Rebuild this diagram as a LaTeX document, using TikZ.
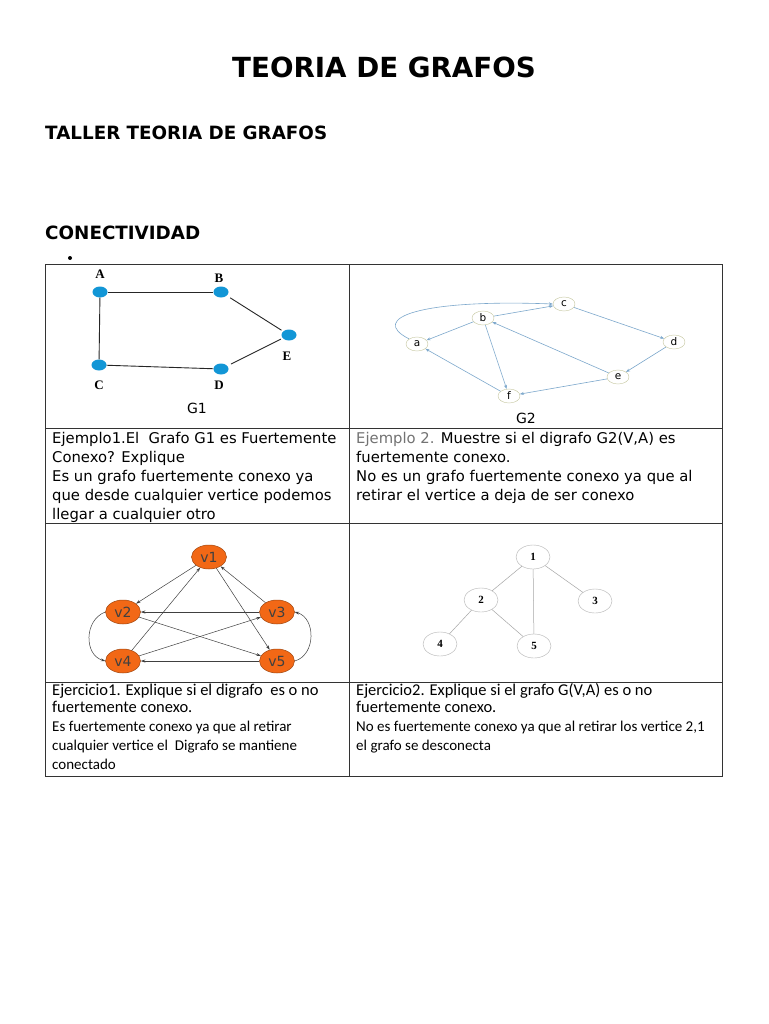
\documentclass[tikz,border=0pt]{standalone}
\usepackage{fontspec}
\setmainfont{DejaVu Sans}
\newfontfamily\calfont{Carlito}
\newfontfamily\numfont{Liberation Serif}
\usetikzlibrary{arrows.meta,positioning,calc,shapes.geometric}

\definecolor{dotblue}{RGB}{18,150,214}
\definecolor{edgeblue}{RGB}{125,168,204}
\definecolor{ovline}{RGB}{196,198,158}
\definecolor{vorange}{RGB}{242,104,22}
\definecolor{vline}{RGB}{160,70,15}

\tikzset{
  head/.style={anchor=west, inner sep=0pt, font=\bfseries\fontsize{18.3}{18.3}\selectfont},
  gdot/.style={ellipse, fill=dotblue, minimum width=15pt, minimum height=11pt, inner sep=0pt},
  glab/.style={font=\numfont\bfseries\fontsize{13}{13}\selectfont},
  dnode/.style={ellipse, draw=ovline, fill=white, minimum width=22pt, minimum height=14pt, inner sep=0pt, font=\fontsize{10.5}{10.5}\selectfont},
  darc/.style={edgeblue, line width=0.6pt, -{Stealth[length=4pt,width=3pt]}},
  vnode/.style={ellipse, fill=vorange, draw=vline, line width=0.5pt, minimum width=35pt, minimum height=24pt, inner sep=0pt, text=black!75, font=\fontsize{14}{14}\selectfont},
  varc/.style={black!75, line width=0.5pt, -{Stealth[length=4.5pt,width=3pt]}},
  tnode/.style={ellipse, draw=black!30, minimum width=34pt, minimum height=24pt, inner sep=0pt, font=\numfont\bfseries\fontsize{11}{11}\selectfont},
  tline/.style={black!35, line width=0.5pt},
  txt/.style={anchor=base west, inner sep=0pt, font=\fontsize{14.8}{14.8}\selectfont},
  ctxt/.style={anchor=base west, inner sep=0pt, font=\calfont\fontsize{16.5}{16.5}\selectfont},
  stxt/.style={anchor=base west, inner sep=0pt, font=\calfont\fontsize{15}{15}\selectfont},
}

\begin{document}
\begin{tikzpicture}[x=1pt, y=-1pt]
    \useasboundingbox[fill=white] (0,0) rectangle (768,1024);

    % Headings
    \node[font=\bfseries\fontsize{27.7}{27.7}\selectfont] (title) at (384,67) {TEORIA DE GRAFOS};
    \node[head] (taller) at (45,133) {TALLER TEORIA DE GRAFOS};
    \node[head] (conec) at (45,233) {CONECTIVIDAD};
    \node[circle, fill=black, inner sep=0pt, minimum size=4pt] (bul) at (70,258) {};

    % Table
    \draw[black!80, line width=1pt] (45,264) rectangle (722,776);
    \draw[black!80, line width=1pt] (45,428) -- (722,428);
    \draw[black!80, line width=1pt] (45,523) -- (722,523);
    \draw[black!80, line width=1pt] (45,682) -- (722,682);
    \draw[black!80, line width=1pt] (349,264) -- (349,776);

    % G1
    \node[gdot] (A) at (100,292) {};
    \node[gdot] (B) at (221,292) {};
    \node[gdot] (E) at (289,335) {};
    \node[gdot] (C) at (99,365) {};
    \node[gdot] (D) at (221,369) {};
    \node[glab] (lA) at (100,274) {A};
    \node[glab] (lB) at (219,278) {B};
    \node[glab] (lE) at (287,356) {E};
    \node[glab] (lC) at (99,385) {C};
    \node[glab] (lD) at (219,385) {D};
    \node[font=\fontsize{14}{14}\selectfont] (g1) at (197,408) {G1};
    \draw[black!85, line width=0.9pt] (A) -- (B);
    \draw[black!85, line width=0.9pt] (A) -- (C);
    \draw[black!85, line width=0.9pt] (C) -- (D);
    \draw[black!85, line width=0.9pt, shorten <=4pt, shorten >=2pt] (B) -- (E);
    \draw[black!85, line width=0.9pt, shorten <=4pt, shorten >=2pt] (D) -- (E);

    % G2
    \node[dnode] (a) at (417,344) {a};
    \node[dnode] (b) at (483,318) {b};
    \node[dnode] (c) at (564,304) {c};
    \node[dnode] (d) at (674,342) {d};
    \node[dnode] (e) at (618,377) {e};
    \node[dnode] (f) at (509,396) {f};
    \node[font=\fontsize{14}{14}\selectfont] (g2) at (526,418) {G2};
    \draw[darc] (a.north west) .. controls (368,318) and (420,299) .. (c.west);
    \draw[darc] (b) -- (c);
    \draw[darc] (b) -- (a);
    \draw[darc] (b) -- (f);
    \draw[darc] (f) -- (a);
    \draw[darc] (e) -- (b);
    \draw[darc] (e) -- (f);
    \draw[darc] (c) -- (d);
    \draw[darc] (d) -- (e);

    % Row 2 texts
    \node[txt] (ej1a) at (52,443) {Ejemplo1.El\ \ Grafo G1 es Fuertemente};
    \node[txt] (ej1b) at (52,462) {Conexo? Explique};
    \node[txt] (ej1c) at (52,481) {Es un grafo fuertemente conexo ya};
    \node[txt] (ej1d) at (52,500) {que desde cualquier vertice podemos};
    \node[txt] (ej1e) at (52,519) {llegar a cualquier otro};
    \node[txt] (ej2a) at (356,443) {{\color{black!55}Ejemplo 2.} Muestre si el digrafo G2(V,A) es};
    \node[txt] (ej2b) at (356,462) {fuertemente conexo.};
    \node[txt] (ej2c) at (356,481) {No es un grafo fuertemente conexo ya que al};
    \node[txt] (ej2d) at (356,500) {retirar el vertice a deja de ser conexo};

    % Digrafo v1..v5
    \node[vnode] (v1) at (209,557) {v1};
    \node[vnode] (v2) at (123,612) {v2};
    \node[vnode] (v3) at (277,612) {v3};
    \node[vnode] (v4) at (123,661) {v4};
    \node[vnode] (v5) at (277,661) {v5};
    \draw[varc] (v1) -- (v2);
    \draw[varc] (v4) -- (v1);
    \draw[varc] (v1) -- (v5);
    \draw[varc] (v3) -- (v1);
    \draw[varc] (v3) -- (v2);
    \draw[varc] (v2) -- (v5);
    \draw[varc] (v4) -- (v3);
    \draw[varc] (v5) -- (v4);
    \draw[varc] (v2.west) .. controls (84,620) and (84,655) .. (v4.west);
    \draw[varc] (v5.east) .. controls (316,655) and (316,618) .. (v3.east);

    % Grafo 1..5
    \node[tnode] (n1) at (533,557) {1};
    \node[tnode] (n2) at (481,600) {2};
    \node[tnode] (n3) at (595,601) {3};
    \node[tnode] (n4) at (440,644) {4};
    \node[tnode] (n5) at (534,646) {5};
    \draw[tline] (n1) -- (n2);
    \draw[tline] (n1) -- (n3);
    \draw[tline] (n1) -- (n5);
    \draw[tline] (n2) -- (n4);
    \draw[tline] (n2) -- (n5);

    % Row 4 texts
    \node[ctxt] (ex1a) at (52,695) {Ejercicio1. Explique si el digrafo\ \ es o no};
    \node[ctxt] (ex1b) at (52,712) {fuertemente conexo.};
    \node[stxt] (ex1c) at (52,731) {Es fuertemente conexo ya que al retirar};
    \node[stxt] (ex1d) at (52,750) {cualquier vertice el\ \ Digrafo se mantiene};
    \node[stxt] (ex1e) at (52,769) {conectado};
    \node[ctxt] (ex2a) at (356,695) {Ejercicio2. Explique si el grafo G(V,A) es o no};
    \node[ctxt] (ex2b) at (356,712) {fuertemente conexo.};
    \node[stxt] (ex2c) at (356,731) {No es fuertemente conexo ya que al retirar los vertice 2,1};
    \node[stxt] (ex2d) at (356,750) {el grafo se desconecta};
\end{tikzpicture}
\end{document}
